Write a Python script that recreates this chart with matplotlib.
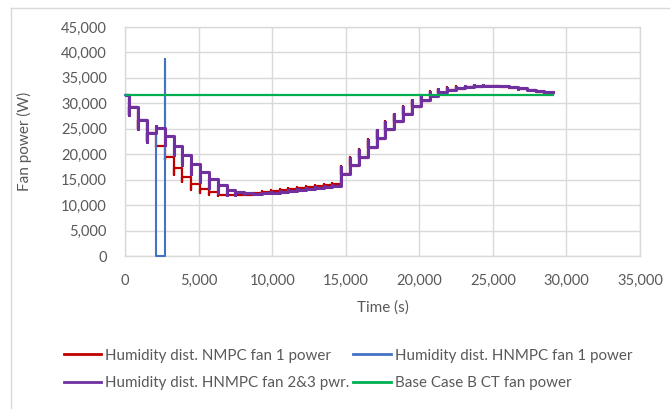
import matplotlib
matplotlib.use("Agg")
import matplotlib.pyplot as plt
from matplotlib.lines import Line2D
from matplotlib.ticker import FuncFormatter, MultipleLocator

plt.rcParams["font.family"] = ["Lato", "DejaVu Sans"]

T_END = 29100          # last sample (s)
BASE_POWER = 31600     # base case B, constant fan power (W)

# controller update instants (s)
step_t = [300, 900, 1500, 2100, 2700, 3300, 3900, 4500, 5100, 5700,
          6300, 6900, 7500, 8100, 8700, 9300, 9900, 10500, 11100, 11700,
          12300, 12900, 13500, 14100, 14700, 15300, 15900, 16500, 17100, 17700,
          18300, 18900, 19500, 20100, 20700, 21300, 21900, 22500, 23100, 23700,
          24300, 24900, 25500, 26100, 26700, 27300, 27900, 28500]

# HNMPC fans 2&3: level held after each update and the transient peak at the update
hn_start = 31600
hn_level = [29300, 26700, 24200, 25100, 23600, 21700, 19800, 18000, 16500, 15100,
            13900, 13000, 12500, 12300, 12250, 12300, 12450, 12600, 12800, 13000,
            13200, 13400, 13600, 13800, 16200, 17800, 19500, 21400, 23200, 24900,
            26500, 28000, 29400, 30600, 31500, 32200, 32700, 33000, 33250, 33400,
            33450, 33450, 33350, 33200, 32950, 32650, 32400, 32200]
hn_spike = [27700, 24900, 22500, 25500, 21900, 19900, 17900, 16100, 14600, 13300,
            12300, 12000, 12000, 12100, 12200, 12400, 12600, 12750, 12950, 13150,
            13350, 13550, 13750, 13950, 17500, 19300, 20900, 22800, 24700, 26400,
            27900, 29300, 30600, 31600, 32300, 32800, 33100, 33300, 33450, 33550,
            33550, 33500, 33350, 33150, 32900, 32600, 32350, 32150]

# NMPC fan 1
nm_start = 31600
nm_level = [29300, 26700, 24200, 21700, 19400, 17200, 15500, 14200, 13200, 12500,
            12000, 11900, 11900, 12000, 12300, 12500, 12700, 12900, 13100, 13300,
            13500, 13700, 13900, 14100, 16100, 17650, 19350, 21250, 23050, 24750,
            26350, 27850, 29250, 30450, 31350, 32100, 32600, 32900, 33150, 33300,
            33350, 33350, 33250, 33100, 32850, 32550, 32300, 32100]
nm_spike = [27700, 24900, 22500, 21500, 18800, 16000, 14600, 13000, 12400, 12000,
            11800, 11800, 11900, 12100, 12400, 12800, 13000, 13200, 13400, 13600,
            13800, 14000, 14200, 14400, 17600, 19400, 21000, 22900, 24800, 26500,
            28000, 29400, 30700, 31700, 32400, 32900, 33200, 33350, 33500, 33600,
            33600, 33500, 33350, 33100, 32850, 32550, 32300, 32100]

# HNMPC fan 1 follows fans 2&3 except while it is switched off and restarted
fan1_off_step = 3          # update at 2100 s
fan1_restart_peak = 38700  # peak when switched back on at 2700 s


def step_path(start, levels, spikes):
    xs, ys = [0], [start]
    prev = start
    for t, lv, sp in zip(step_t, levels, spikes):
        xs += [t, t, t]
        ys += [prev, sp, lv]
        prev = lv
    xs.append(T_END)
    ys.append(prev)
    return xs, ys


fan1_level = list(hn_level)
fan1_spike = list(hn_spike)
fan1_level[fan1_off_step] = 0
fan1_spike[fan1_off_step] = 0
fan1_spike[fan1_off_step + 1] = fan1_restart_peak

W, H = 670, 409
fig = plt.figure(figsize=(W / 100, H / 100), dpi=100)
ax = fig.add_axes([125 / W, 1 - 256 / H, 515 / W, 229 / H])

grid_c = "#D9D9D9"
text_c = "#595959"

x, y = step_path(nm_start, nm_level, nm_spike)
l_nm, = ax.plot(x, y, color="#C00000", lw=1.6, zorder=3)
x, y = step_path(hn_start, fan1_level, fan1_spike)
l_f1, = ax.plot(x, y, color="#4472C4", lw=1.5, zorder=4, clip_on=False)
x, y = step_path(hn_start, hn_level, hn_spike)
l_hn, = ax.plot(x, y, color="#7030A0", lw=2.2, zorder=5)
l_bc, = ax.plot([0, T_END], [BASE_POWER, BASE_POWER], color="#00B050", lw=1.6, zorder=6)

ax.set_xlim(0, 35000)
ax.set_ylim(0, 45000)
ax.xaxis.set_major_locator(MultipleLocator(5000))
ax.yaxis.set_major_locator(MultipleLocator(5000))
fmt = FuncFormatter(lambda v, _: f"{v:,.0f}")
ax.xaxis.set_major_formatter(fmt)
ax.yaxis.set_major_formatter(fmt)
ax.grid(True, color=grid_c, lw=1.0, zorder=0)
ax.set_axisbelow(True)
for s in ax.spines.values():
    s.set_color(grid_c)
    s.set_linewidth(1.0)
ax.tick_params(length=0, labelsize=10.5, labelcolor=text_c)
ax.tick_params(axis="y", pad=13)
ax.tick_params(axis="x", pad=13)

ax.set_xlabel("Time (s)", fontsize=11, color=text_c, labelpad=9)
ax.set_ylabel("Fan power (W)", fontsize=11, color=text_c, labelpad=21)

handles = [l_nm, l_hn, l_f1, l_bc]
labels = ["Humidity dist. NMPC fan 1 power",
          "Humidity dist. HNMPC fan 2&3 pwr.",
          "Humidity dist. HNMPC fan 1 power",
          "Base Case B CT fan power"]
leg = fig.legend(handles, labels, ncol=2, loc="upper left",
                 bbox_to_anchor=(50 / W, 1 - 335 / H), frameon=False,
                 fontsize=10.9, handlelength=2.5, handletextpad=0.25,
                 columnspacing=0.25, labelspacing=0.9)
for t in leg.get_texts():
    t.set_color(text_c)
for h in leg.get_lines():
    h.set_linewidth(2.0)

# chart area outline
fig.add_artist(Line2D([11 / W, 1], [1 - 8 / H] * 2, transform=fig.transFigure,
                      color=grid_c, lw=1.0))
fig.add_artist(Line2D([11 / W] * 2, [0, 1 - 8 / H], transform=fig.transFigure,
                      color=grid_c, lw=1.0))

fig.savefig("out.png", dpi=100)
